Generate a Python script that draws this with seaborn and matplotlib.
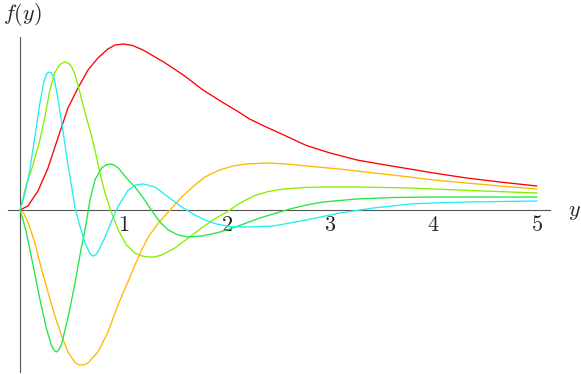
import numpy as np
import pandas as pd
import matplotlib
matplotlib.use("Agg")
import matplotlib.pyplot as plt
import seaborn as sns

# values (x in y-units, f in arbitrary units)
red_x = [0, 0.077, 0.174, 0.271, 0.367, 0.464, 0.561, 0.658, 0.754, 0.85, 0.92, 1.0, 1.09, 1.19,
         1.29, 1.39, 1.58, 1.77, 1.97, 2.1, 2.22, 2.36, 2.51, 2.77, 3.0, 3.26, 3.48, 3.77, 4.0,
         4.32, 4.64, 5.0]
red_y = [0, 0.04, 0.19, 0.42, 0.72, 1.02, 1.22, 1.40, 1.52, 1.61, 1.65, 1.66, 1.645, 1.60,
         1.54, 1.48, 1.35, 1.20, 1.07, 0.99, 0.91, 0.84, 0.77, 0.645, 0.57, 0.50, 0.46, 0.41, 0.37,
         0.32, 0.28, 0.24]

orange_x = [0, 0.04, 0.077, 0.142, 0.206, 0.271, 0.335, 0.40, 0.464, 0.529, 0.562, 0.593, 0.625,
            0.658, 0.754, 0.851, 0.948, 1.044, 1.112, 1.177, 1.241, 1.338, 1.434, 1.564, 1.692,
            1.789, 1.93, 2.06, 2.19, 2.39, 2.58, 2.77, 3.09, 3.42, 3.77, 4.0, 4.32, 4.64, 5.0]
orange_y = [0, -0.04, -0.12, -0.32, -0.58, -0.82, -1.05, -1.25, -1.42, -1.52, -1.545, -1.55, -1.545,
            -1.53, -1.42, -1.22, -0.95, -0.72, -0.55, -0.40, -0.27, -0.13, -0.02, 0.13, 0.25,
            0.33, 0.40, 0.44, 0.46, 0.47, 0.46, 0.44, 0.41, 0.37, 0.33, 0.30, 0.27, 0.24, 0.21]

lime_x = [0, 0.061, 0.126, 0.19, 0.239, 0.287, 0.335, 0.383, 0.41, 0.432, 0.465, 0.497, 0.53,
          0.561, 0.625, 0.69, 0.725, 0.774, 0.822, 0.887, 0.951, 1.03, 1.112, 1.18, 1.241, 1.30,
          1.37, 1.499, 1.628, 1.757, 1.88, 2.0, 2.13, 2.26, 2.4, 2.55, 2.75, 2.93, 3.26, 3.77,
          4.0, 4.48, 5.0]
lime_y = [0, 0.25, 0.45, 0.69, 0.92, 1.19, 1.37, 1.45, 1.47, 1.48, 1.47, 1.44, 1.36,
          1.25, 0.99, 0.75, 0.60, 0.37, 0.17, -0.03, -0.20, -0.35, -0.43, -0.46, -0.47, -0.47,
          -0.45, -0.38, -0.28, -0.18, -0.09, -0.02, 0.07, 0.14, 0.185, 0.21, 0.225, 0.23, 0.23, 0.22,
          0.21, 0.19, 0.17]

green_x = [0, 0.03, 0.061, 0.126, 0.19, 0.255, 0.303, 0.327, 0.351, 0.375, 0.40, 0.464, 0.529,
           0.593, 0.629, 0.677, 0.725, 0.79, 0.83, 0.87, 0.91, 0.951, 1.03, 1.112, 1.193, 1.27,
           1.354, 1.434, 1.531, 1.628, 1.757, 1.9, 2.03, 2.19, 2.32, 2.48, 2.61, 2.77, 2.93, 3.26,
           3.6, 4.0, 4.5, 5.0]
green_y = [0, -0.10, -0.22, -0.55, -0.88, -1.18, -1.35, -1.40, -1.42, -1.40, -1.35, -1.08, -0.75,
           -0.38, -0.20, 0.10, 0.30, 0.42, 0.45, 0.46, 0.45, 0.42, 0.32, 0.23, 0.12, 0.0,
           -0.12, -0.20, -0.25, -0.27, -0.26, -0.23, -0.19, -0.13, -0.08, -0.03, 0.01, 0.05, 0.08, 0.11,
           0.125, 0.13, 0.13, 0.13]

cyan_x = [0, 0.045, 0.094, 0.142, 0.19, 0.232, 0.257, 0.28, 0.305, 0.33, 0.367, 0.416, 0.464,
          0.513, 0.53, 0.577, 0.625, 0.674, 0.69, 0.706, 0.73, 0.754, 0.819, 0.887, 0.951, 1.047,
          1.12, 1.193, 1.306, 1.434, 1.564, 1.692, 1.789, 1.9, 2.03, 2.2, 2.45, 2.77, 3.09, 3.42,
          3.77, 4.0, 4.32, 5.0]
cyan_y = [0, 0.15, 0.39, 0.72, 1.05, 1.29, 1.36, 1.38, 1.37, 1.32, 1.12, 0.79, 0.45,
          0.15, 0.03, -0.15, -0.32, -0.43, -0.45, -0.46, -0.45, -0.42, -0.28, -0.11, 0.04, 0.20,
          0.25, 0.26, 0.23, 0.13, 0.03, -0.05, -0.10, -0.14, -0.165, -0.17, -0.16, -0.10, -0.03, 0.02,
          0.06, 0.07, 0.08, 0.09]

series = [
    ("red", red_x, red_y, "#ff0000"),
    ("orange", orange_x, orange_y, "#ffb800"),
    ("lime", lime_x, lime_y, "#88ee00"),
    ("green", green_x, green_y, "#22e644"),
    ("cyan", cyan_x, cyan_y, "#22eeee"),
]

sns.set_style("white")
plt.rcParams["mathtext.fontset"] = "cm"
plt.rcParams["font.family"] = ["DejaVu Serif"]

fig = plt.figure(figsize=(5.81, 3.74), dpi=100)
ax = fig.add_axes([0, 0, 1, 1])

for name, xs, ys, col in series:
    df = pd.DataFrame({"y": xs, "f": ys})
    sns.lineplot(data=df, x="y", y="f", ax=ax, color=col, linewidth=0.95, sort=False)

# axes crossing at the origin, Mathematica style
ax.set_xlim(-0.193, 5.426)
ax.set_ylim(-1.64, 2.10)
for s in ["top", "right"]:
    ax.spines[s].set_visible(False)
ax.spines["left"].set_position(("data", 0))
ax.spines["bottom"].set_position(("data", 0))
ax.spines["left"].set_bounds(-1.62, 1.73)
ax.spines["bottom"].set_bounds(-0.116, 5.126)
for s in ["left", "bottom"]:
    ax.spines[s].set_color("#555555")
    ax.spines[s].set_linewidth(0.8)
    ax.spines[s].set_zorder(0)

ax.set_xticks([1, 2, 3, 4, 5])
ax.set_xticklabels([f"${i}$" for i in range(1, 6)], fontsize=16)
ax.set_yticks([])
ax.tick_params(axis="x", direction="in", length=3, width=0.6, color="#777777", pad=3)
ax.set_xlabel("")
ax.set_ylabel("")

ax.text(0.005, 0.96, "$f(y)$", transform=ax.transAxes, fontsize=16, ha="left", va="center")
ax.text(0.978, 0.435, "$y$", transform=ax.transAxes, fontsize=16, ha="left", va="center")

fig.savefig("out.png", dpi=100)
